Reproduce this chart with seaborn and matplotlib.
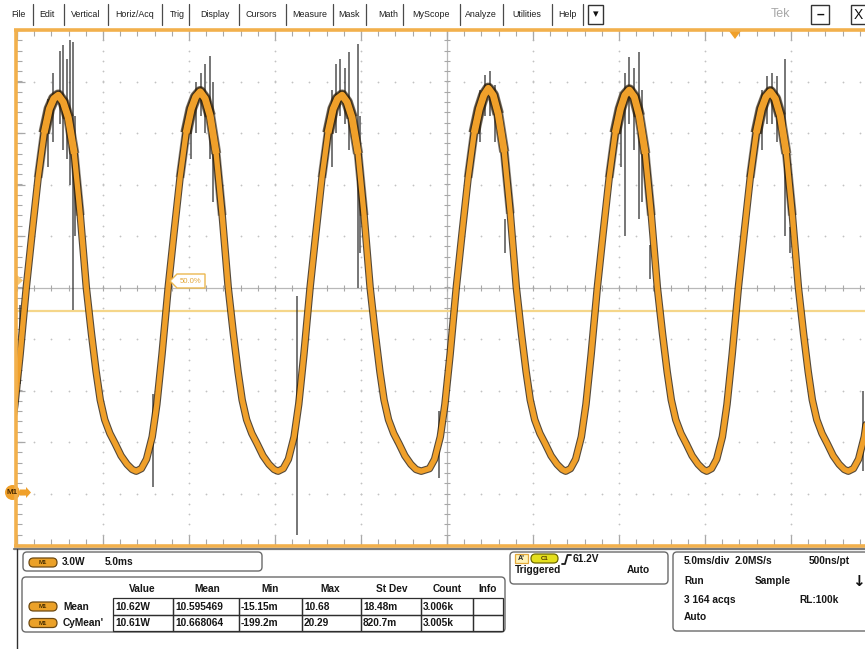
import numpy as np
import matplotlib
matplotlib.use("Agg")
import matplotlib.pyplot as plt
from matplotlib.patches import FancyBboxPatch, Rectangle, Polygon, Circle
import seaborn as sns

# ---- trace: time in ms (0 = screen centre), power in W ----
trace_t = [-25.39, -25.12, -24.82, -24.46, -24.12, -23.77, -23.42, -23.12, -22.86, -22.6,
           -22.31, -22.02, -21.67, -21.32, -20.97, -20.67, -20.4, -20.16, -19.9, -19.6,
           -19.29, -18.95, -18.6, -18.3, -18.07,
           -17.77, -17.47, -17.14, -16.87, -16.57, -16.21, -15.87, -15.52, -15.17, -14.87,
           -14.61, -14.35,
           -14.06, -13.77, -13.42, -13.07, -12.72, -12.42, -12.15, -11.91, -11.65, -11.35,
           -11.04, -10.7, -10.35, -10.05, -9.82,
           -9.52, -9.22, -8.89, -8.62, -8.32, -7.96, -7.62, -7.27, -6.92, -6.62, -6.36, -6.1,
           -5.81, -5.52, -5.17, -4.82, -4.47, -4.17, -3.9, -3.66, -3.4, -3.1, -2.79, -2.45,
           -2.1, -1.8, -1.5,
           -1.02, -0.72, -0.39, -0.12, 0.18, 0.54, 0.88, 1.23, 1.58, 1.88, 2.14, 2.4,
           2.69, 2.98, 3.33, 3.68, 4.03, 4.33, 4.6, 4.84, 5.1, 5.4, 5.71, 6.05, 6.4, 6.7, 6.9,
           7.18, 7.48, 7.81, 8.08, 8.38, 8.74, 9.08, 9.43, 9.78, 10.08, 10.34, 10.6,
           10.89, 11.18, 11.53, 11.88, 12.23, 12.53, 12.8, 13.04, 13.3, 13.6, 13.91, 14.25,
           14.6, 14.9, 15.1,
           15.38, 15.68, 16.01, 16.28, 16.58, 16.94, 17.28, 17.63, 17.98, 18.28, 18.54, 18.8,
           19.09, 19.38, 19.73, 20.08, 20.43, 20.73, 21.0, 21.24, 21.5, 21.8, 22.11, 22.45,
           22.8, 23.1, 23.33,
           23.63, 23.93, 24.26, 24.53, 24.83, 25.19]
trace_p = [3.3, 5.2, 8.1, 12.0, 15.2, 18.4, 21.0, 22.4, 23.0, 23.2,
           22.8, 21.9, 19.8, 16.2, 12.0, 9.3, 7.1, 5.45, 4.3, 3.5,
           2.9, 2.2, 1.7, 1.4, 1.3,
           1.45, 2.0, 3.3, 5.2, 8.1, 12.0, 15.2, 18.4, 21.0, 22.4,
           23.1, 23.4,
           23.0, 22.0, 19.8, 16.2, 12.0, 9.3, 7.1, 5.45, 4.3, 3.5,
           2.9, 2.2, 1.7, 1.4, 1.3,
           1.45, 2.0, 3.3, 5.2, 8.1, 12.0, 15.2, 18.4, 21.0, 22.4, 23.0, 23.2,
           22.8, 21.9, 19.8, 16.2, 12.0, 9.3, 7.1, 5.45, 4.3, 3.5, 2.9, 2.2,
           1.7, 1.4, 1.3,
           1.45, 2.0, 3.3, 5.2, 8.1, 12.0, 15.2, 18.4, 21.0, 22.4, 23.2, 23.6,
           23.2, 22.1, 19.9, 16.3, 12.0, 9.3, 7.1, 5.45, 4.3, 3.5, 2.9, 2.2, 1.7, 1.4, 1.3,
           1.45, 2.0, 3.3, 5.2, 8.1, 12.0, 15.2, 18.4, 21.0, 22.4, 23.2, 23.5,
           23.1, 22.0, 19.8, 16.2, 12.0, 9.3, 7.1, 5.45, 4.3, 3.5, 2.9, 2.2,
           1.7, 1.4, 1.3,
           1.45, 2.0, 3.3, 5.2, 8.1, 12.0, 15.2, 18.4, 21.0, 22.4, 23.1, 23.4,
           23.0, 22.0, 19.8, 16.2, 12.0, 9.3, 7.1, 5.45, 4.3, 3.5, 2.9, 2.2,
           1.7, 1.4, 1.3,
           1.45, 2.0, 3.3, 5.2, 8.1, 12.0]

# glitches / spikes on the trace: time (ms), low and high (W)
spike_t = [-24.85, -23.2, -22.9, -22.5, -22.3, -22.1, -21.9, -21.75, -21.6, -17.1,
           -14.9, -14.6, -14.3, -14.05, -13.8, -13.6, -8.7,
           -6.7, -6.45, -6.2, -5.95, -5.7, -5.2, -5.05, -0.45,
           1.9, 2.2, 2.5, 2.8, 3.35,
           10.1, 10.35, 10.6, 10.85, 11.15, 11.35, 11.8,
           18.3, 18.6, 18.9, 19.2, 19.65, 19.95, 24.2]
spike_lo = [6.4, 19.0, 20.5, 21.5, 20.0, 19.5, 18.0, 10.7, 15.0, 0.4,
            19.5, 21.0, 22.0, 21.0, 19.5, 17.0, -2.4,
            19.0, 21.0, 22.0, 21.5, 20.0, 12.0, 14.0, 0.9,
            20.5, 22.0, 22.0, 20.5, 14.0,
            19.0, 15.0, 21.5, 20.0, 16.0, 17.0, 12.5,
            20.0, 21.5, 21.5, 20.5, 15.0, 14.0, 1.3]
spike_hi = [11.0, 23.0, 24.5, 25.8, 26.1, 25.3, 26.4, 26.3, 22.0, 5.8,
            22.5, 24.0, 24.5, 25.0, 25.5, 24.0, 11.5,
            23.5, 25.0, 25.3, 24.8, 25.7, 26.2, 22.0, 4.8,
            23.5, 24.4, 24.6, 23.8, 16.0,
            23.0, 24.5, 25.4, 24.8, 25.7, 23.5, 14.5,
            23.5, 24.3, 24.5, 24.3, 25.3, 15.5, 6.0]

trig_level = 10.63  # W (the 50 % level line)

menu_items = ["File", "Edit", "Vertical", "Horiz/Acq", "Trig", "Display", "Cursors",
              "Measure", "Mask", "Math", "MyScope", "Analyze", "Utilities", "Help"]

meas_cols = ["Value", "Mean", "Min", "Max", "St Dev", "Count", "Info"]
meas_rows = ["Mean", "CyMean'"]
meas_mean = ["10.62W", "10.595469", "-15.15m", "10.68", "18.48m", "3.006k", ""]
meas_cymean = ["10.61W", "10.668064", "-199.2m", "20.29", "820.7m", "3.005k", ""]

# ---- layout ----
W, H = 865, 649
ORANGE = "#f0a02a"
BORDER = "#f2b04c"
DARK = "#2a1c08"

sns.set_style("white")
plt.rcParams["font.family"] = ["Liberation Sans", "DejaVu Sans"]

fig = plt.figure(figsize=(W / 100, H / 100), dpi=100)
fig.patch.set_facecolor("white")

# graticule: 10 div x 5 ms, 10 div x 3 W, right edge runs past the screenshot
gx0, gx1, gy0, gy1 = 17, 877, 30, 545
ax = fig.add_axes([gx0 / W, 1 - gy1 / H, (gx1 - gx0) / W, (gy1 - gy0) / H])
ax.set_xlim(-25, 25)
ax.set_ylim(-3, 27)
ax.set_xticks([])
ax.set_yticks([])
for s in ax.spines.values():
    s.set_visible(False)

xs_minor = np.arange(-25, 25.01, 1.0)
ys_minor = np.arange(-3, 27.01, 0.6)
dot = dict(ls="none", marker="o", ms=1.3, mew=0, color="#c2c2c2")
for xm in np.arange(-20, 25, 5):
    if xm != 0:
        ax.plot(np.full_like(ys_minor, xm), ys_minor, **dot)
for ym in np.arange(0, 27, 3):
    if ym != 12:
        ax.plot(xs_minor, np.full_like(xs_minor, ym), **dot)

tk = "#a8a8a8"
ax.axhline(12, color="#b8b8b8", lw=0.9, zorder=1)
ax.axvline(0, color="#b8b8b8", lw=0.9, zorder=1)
ax.plot(xs_minor, np.full_like(xs_minor, 12), ls="none", marker="|", ms=5, mew=0.8, color=tk)
ax.plot(np.zeros_like(ys_minor), ys_minor, ls="none", marker="_", ms=5, mew=0.8, color=tk)
# edge ticks (half of each marker is clipped away)
ax.plot(xs_minor, np.full_like(xs_minor, 27), ls="none", marker="|", ms=8, mew=0.8, color=tk)
ax.plot(xs_minor, np.full_like(xs_minor, -3), ls="none", marker="|", ms=8, mew=0.8, color=tk)
ax.plot(np.full_like(ys_minor, -25), ys_minor, ls="none", marker="_", ms=7, mew=0.8, color=tk)
xs_major = np.arange(-25, 25.01, 5)
ys_major = np.arange(-3, 27.01, 3)
ax.plot(xs_major, np.full_like(xs_major, 27), ls="none", marker="|", ms=14, mew=0.9, color=tk)
ax.plot(xs_major, np.full_like(xs_major, -3), ls="none", marker="|", ms=14, mew=0.9, color=tk)
ax.plot(np.full_like(ys_major, -25), ys_major, ls="none", marker="_", ms=12, mew=0.9, color=tk)

ax.axhline(trig_level, color="#f5d68a", lw=1.6, zorder=2)

# noisy band: the fuzz grows towards the peaks, drawn as stacked layers
p_arr = np.asarray(trace_p)
ax.vlines(spike_t, spike_lo, spike_hi, colors="#262626", lw=1.1, alpha=0.8, zorder=2.5)
for thr, lw, a in [(16.0, 6.4, 0.45), (18.5, 7.4, 0.55), (20.5, 8.4, 0.6)]:
    ax.plot(trace_t, np.where(p_arr > thr, p_arr, np.nan), color=DARK, lw=lw, alpha=a,
            zorder=2.8, solid_capstyle="butt")
sns.lineplot(x=trace_t, y=trace_p, ax=ax, color=DARK, lw=5.4, alpha=0.8,
             estimator=None, sort=False, zorder=3)
sns.lineplot(x=trace_t, y=trace_p, ax=ax, color=ORANGE, lw=3.8,
             estimator=None, sort=False, zorder=4)
ax.plot(trace_t, np.where(p_arr > 19.0, p_arr, np.nan), color=ORANGE, lw=5.0,
        zorder=4, solid_capstyle="butt")

# ---- overlay in pixel coordinates ----
ov = fig.add_axes([0, 0, 1, 1], zorder=5)
ov.set_xlim(0, W)
ov.set_ylim(H, 0)
ov.axis("off")
ov.patch.set_alpha(0)

# orange frame round the graticule
ov.plot([14, W], [29.5, 29.5], color=BORDER, lw=2.6, solid_capstyle="butt")
ov.plot([15.5, 15.5], [29, 546], color=BORDER, lw=2.6, solid_capstyle="butt")
ov.plot([14, W], [545.5, 545.5], color=BORDER, lw=2.6, solid_capstyle="butt")
ov.plot([14, W], [548.5, 548.5], color="#7a7a7a", lw=1.6)
ov.plot([17, 17], [549, H], color="#303030", lw=1.0)

# markers on the graticule
ov.add_patch(Polygon([[729, 31], [741, 31], [735, 39]], closed=True, fc=ORANGE, ec="none"))
ov.add_patch(Polygon([[17, 275], [23, 280.5], [17, 286]], closed=True, fc="#f5c878", ec="none"))
ov.add_patch(Polygon([[170, 281], [177, 274], [205, 274], [205, 288], [177, 288]],
                     closed=True, fc="white", ec="#ebb850", lw=1.0))
ov.text(191, 281.5, "50.0%", fontsize=5.6, color="#e3a73a", ha="center", va="center")
ov.add_patch(Circle((12.5, 492.5), 7.5, fc=ORANGE, ec="none"))
ov.add_patch(Polygon([[20, 489.5], [26, 489.5], [26, 487], [31, 492.5], [26, 498], [26, 495.5], [20, 495.5]],
                     closed=True, fc=ORANGE, ec="none"))
ov.text(12.5, 493, "M1", fontsize=5.8, color="#4a2a00", ha="center", va="center", weight="bold")

# menu bar
menu_cx = [18, 47, 86, 135, 177, 215, 261, 310, 349, 388, 431, 481, 527, 567]
menu_sep = [33, 64, 108, 162, 189, 239, 286, 333, 366, 403, 460, 503, 552, 583]
for cx, s in zip(menu_cx, menu_items):
    ov.text(cx, 14.5, s, fontsize=6.4, ha="center", va="center", color="#1e1e1e")
for sx in menu_sep:
    ov.plot([sx, sx], [4, 25], color="#4a4a4a", lw=0.9)
ov.add_patch(Rectangle((588, 5), 15, 19, fc="white", ec="#333333", lw=1.0))
ov.text(595.5, 14.5, "▾", fontsize=8, ha="center", va="center", color="#111111",
        family=["DejaVu Sans"])
ov.text(780, 14, "Tek", fontsize=9, ha="center", va="center", color="#a8a8a8")
ov.add_patch(Rectangle((811, 5), 18, 19, fc="white", ec="#333333", lw=1.0))
ov.text(820, 15, "–", fontsize=10, ha="center", va="center", color="#111111", weight="bold")
ov.add_patch(Rectangle((851, 5), 18, 19, fc="white", ec="#333333", lw=1.0))
ov.text(858, 15, "X", fontsize=10, ha="center", va="center", color="#111111")


def box(x, y, w, h, r=4):
    ov.add_patch(FancyBboxPatch((x, y), w, h, boxstyle=f"round,pad=0,rounding_size={r}",
                                fc="white", ec="#6b6b6b", lw=1.0))


def pill(x, y, label, fc="#eba128", ec="#6e4a12", w=28):
    ov.add_patch(FancyBboxPatch((x, y), w, 9, boxstyle="round,pad=0,rounding_size=4.5",
                                fc=fc, ec=ec, lw=0.9))
    ov.text(x + w / 2, y + 4.8, label, fontsize=4.3, ha="center", va="center",
            color="#4a3000", weight="bold")


def txt(x, y, s, ha="left", size=7.3):
    ov.text(x, y, s, fontsize=size, ha=ha, va="center", color="#161616", weight="bold")


# readout boxes
box(23, 552, 239, 19)
pill(29, 558, "M1")
txt(62, 562, "3.0W")
txt(105, 562, "5.0ms")

box(22, 577, 483, 55)
col_cx = [142, 207, 270, 330, 392, 447, 488]
for cx, s in zip(col_cx, meas_cols):
    txt(cx, 589, s, ha="center")
col_edges = [113, 173, 239, 302, 361, 421, 473, 503]
for i in range(2):
    for j in range(7):
        ov.add_patch(Rectangle((col_edges[j], 598 + 16.5 * i), col_edges[j + 1] - col_edges[j], 16.5,
                               fc="none", ec="#2e2e2e", lw=0.9))
for i, (name, vals) in enumerate(zip(meas_rows, [meas_mean, meas_cymean])):
    yy = 606.5 + 16.5 * i
    pill(29, yy - 4.5, "M1")
    txt(63, yy, name)
    for j, s in enumerate(vals):
        txt(col_edges[j] + 2, yy, s)

box(510, 552, 158, 32)
ov.add_patch(Rectangle((515, 554), 13, 9, fc="#fff3b8", ec="#e3a83a", lw=0.9))
ov.text(521.5, 558.8, "A'", fontsize=5.2, ha="center", va="center", color="#2a2a2a", weight="bold")
pill(531, 554, "C1", fc="#e4df1c", ec="#6f6a00", w=27)
ov.plot([562, 565, 567.5, 571], [564, 564, 555, 555], color="#1a1a1a", lw=1.3)
txt(573, 558.5, "61.2V")
txt(515, 570, "Triggered")
txt(627, 570, "Auto")

box(673, 552, 200, 79)
txt(684, 561, "5.0ms/div")
txt(735, 561, "2.0MS/s")
txt(809, 561, "500ns/pt")
txt(684, 581, "Run")
txt(755, 581, "Sample")
ov.text(858, 581, "↓", fontsize=11, ha="center", va="center", color="#111111", weight="bold",
        family=["DejaVu Sans"])
txt(684, 600, "3 164 acqs")
txt(799, 600, "RL:100k")
txt(684, 617, "Auto")

fig.savefig("out.png", dpi=100)
